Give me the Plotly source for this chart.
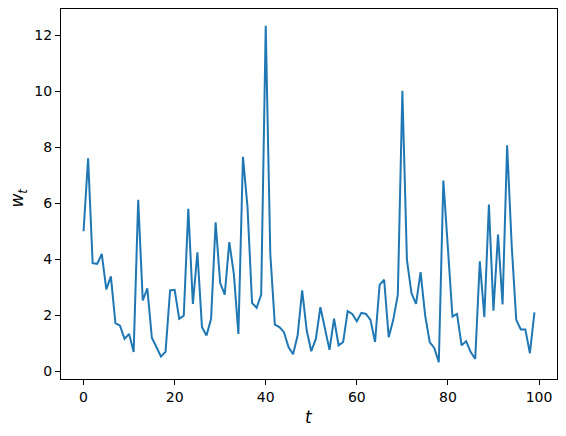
import plotly.graph_objects as go

t = list(range(100))
w = [5.0, 7.6, 3.86, 3.84, 4.19, 2.93, 3.39, 1.72, 1.63, 1.16,
     1.34, 0.69, 6.12, 2.53, 2.96, 1.2, 0.87, 0.53, 0.7, 2.89,
     2.91, 1.88, 1.99, 5.8, 2.41, 4.25, 1.58, 1.28, 1.88, 5.32,
     3.15, 2.74, 4.61, 3.48, 1.34, 7.66, 5.86, 2.44, 2.27, 2.74,
     12.33, 4.2, 1.67, 1.58, 1.40, 0.87, 0.61, 1.28, 2.89, 1.46,
     0.72, 1.16, 2.29, 1.58, 0.77, 1.88, 0.93, 1.05, 2.15, 2.05,
     1.79, 2.09, 2.05, 1.84, 1.05, 3.09, 3.27, 1.22, 1.84, 2.74,
     10.01, 3.98, 2.79, 2.41, 3.54, 2.0, 1.05, 0.84, 0.33, 6.81,
     4.4, 1.96, 2.05, 0.93, 1.08, 0.69, 0.45, 3.93, 1.94, 5.95,
     2.17, 4.88, 2.39, 8.07, 4.5, 1.84, 1.50, 1.50, 0.65, 2.11]
x_ticks = [0, 20, 40, 60, 80, 100]
y_ticks = [0, 2, 4, 6, 8, 10, 12]

xmin, xmax = min(t), max(t)
ymin, ymax = min(w), max(w)
xpad = 0.05 * (xmax - xmin)
ypad = 0.05 * (ymax - ymin)

fig = go.Figure()
fig.add_trace(go.Scatter(x=t, y=w, mode="lines",
                         line=dict(color="#1f77b4", width=2)))

axis_common = dict(showgrid=False, zeroline=False, showline=True, mirror=True,
                   linecolor="black", linewidth=1.1, ticks="outside",
                   ticklen=5, tickwidth=1.1, tickcolor="black",
                   tickfont=dict(family="DejaVu Sans", size=14, color="black"))
fig.update_xaxes(range=[xmin - xpad, xmax + xpad], tickvals=x_ticks, **axis_common)
fig.update_yaxes(range=[ymin - ypad, ymax + ypad], tickvals=y_ticks, **axis_common)

fig.add_annotation(text="<i>t</i>", xref="paper", yref="paper", x=0.5, y=-0.102,
                   xanchor="center", yanchor="middle", showarrow=False,
                   font=dict(family="DejaVu Sans", size=17, color="black"))
fig.add_annotation(text="<i>w<sub>t</sub></i>", xref="paper", yref="paper",
                   x=-0.085, y=0.49, xanchor="center", yanchor="middle",
                   showarrow=False, textangle=-90, borderpad=0,
                   font=dict(family="DejaVu Sans", size=17, color="black"))

# page body adds ~8px offset; compensate in margins
fig.update_layout(width=566, height=436, showlegend=False,
                  plot_bgcolor="white", paper_bgcolor="white",
                  margin=dict(l=53, r=17, t=1, b=65))
fig.write_html("out.html")
